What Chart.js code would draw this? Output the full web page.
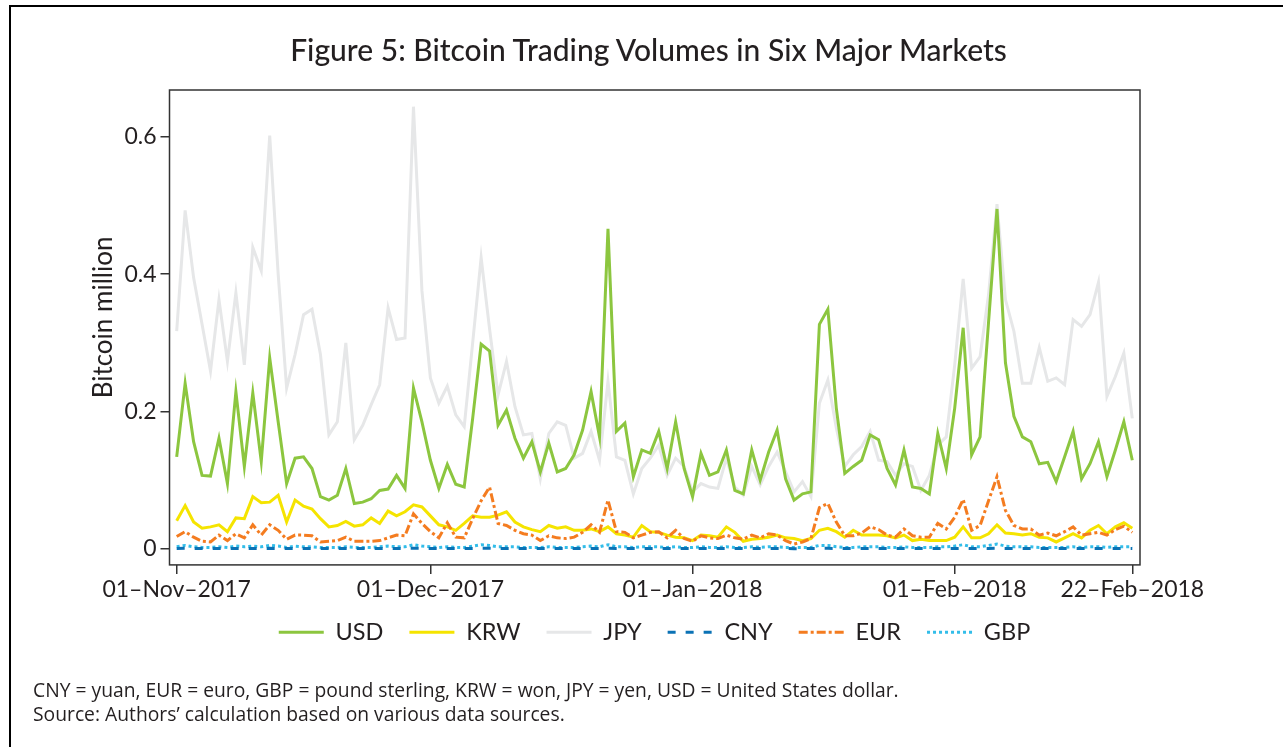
<!DOCTYPE html>
<html>
<head>
<meta charset="utf-8">
<script src="https://cdn.jsdelivr.net/npm/chart.js@4.4.1/dist/chart.umd.min.js"></script>
<style>
html,body{margin:0;padding:0;background:#fff;}
body{width:1283px;height:747px;position:relative;overflow:hidden;font-family:Lato,"Open Sans",sans-serif;color:#231f20;}
#frameTop{position:absolute;left:9px;top:5px;width:1274px;height:2px;background:#000;}
#frameLeft{position:absolute;left:9px;top:5px;width:2px;height:742px;background:#000;}
#title{position:absolute;left:0;width:1297px;top:32px;text-align:center;font-size:30px;line-height:34px;white-space:nowrap;font-weight:500;}
#wrap{position:absolute;left:0;top:0;width:1283px;height:747px;}
.note{position:absolute;left:33px;font-family:"Open Sans",Lato,sans-serif;font-size:19.3px;line-height:22px;white-space:nowrap;}
</style>
</head>
<body>
<div id="frameTop"></div>
<div id="frameLeft"></div>
<div id="wrap"><canvas id="c" width="1283" height="747"></canvas></div>
<div id="title">Figure 5: Bitcoin Trading Volumes in Six Major Markets</div>
<div class="note" style="top:679px;">CNY = yuan, EUR = euro, GBP = pound sterling, KRW = won, JPY = yen, USD = United States dollar.</div>
<div class="note" style="top:703px;">Source: Authors’ calculation based on various data sources.</div>
<script>
// ---- data (daily, 01-Nov-2017 .. 22-Feb-2018), Bitcoin million ----
const seriesNames = ['USD','KRW','JPY','CNY','EUR','GBP'];

const usd = [
0.134,0.241,0.156,0.107,0.106,0.161,0.095,0.229,0.120,0.227,
0.127,0.278,0.185,0.095,0.132,0.134,0.117,0.076,0.071,0.078,
0.117,0.066,0.068,0.073,0.085,0.087,0.107,0.088,0.234,0.185,
0.129,0.088,0.123,0.094,0.090,0.190,0.298,0.288,0.180,0.202,
0.161,0.132,0.156,0.112,0.154,0.112,0.117,0.137,0.173,0.229,
0.163,0.466,0.171,0.183,0.105,0.144,0.139,0.171,0.117,0.185,
0.117,0.076,0.139,0.107,0.112,0.144,0.085,0.080,0.144,0.100,
0.141,0.173,0.102,0.071,0.080,0.083,0.327,0.349,0.205,0.110,
0.120,0.129,0.166,0.159,0.117,0.093,0.144,0.090,0.088,0.080,
0.168,0.117,0.205,0.322,0.137,0.163,0.330,0.495,0.271,0.193,
0.163,0.156,0.124,0.126,0.098,0.134,0.171,0.102,0.124,0.156,
0.105,0.144,0.185,0.129];

const krw = [
0.041,0.063,0.039,0.030,0.032,0.035,0.025,0.045,0.044,0.076,
0.067,0.068,0.078,0.039,0.071,0.062,0.058,0.044,0.032,0.034,
0.040,0.033,0.035,0.045,0.037,0.055,0.048,0.054,0.064,0.061,
0.048,0.035,0.032,0.027,0.037,0.048,0.046,0.046,0.049,0.054,
0.039,0.032,0.028,0.025,0.034,0.030,0.032,0.027,0.027,0.029,
0.025,0.032,0.022,0.020,0.017,0.034,0.025,0.024,0.020,0.017,
0.016,0.012,0.020,0.019,0.017,0.032,0.024,0.011,0.014,0.015,
0.017,0.020,0.016,0.015,0.012,0.015,0.027,0.030,0.025,0.017,
0.027,0.020,0.020,0.020,0.019,0.016,0.020,0.012,0.014,0.012,
0.012,0.012,0.017,0.032,0.016,0.016,0.022,0.035,0.023,0.022,
0.020,0.022,0.017,0.016,0.010,0.016,0.022,0.016,0.027,0.034,
0.022,0.032,0.038,0.030];

const jpy = [
0.317,0.493,0.395,0.327,0.259,0.363,0.273,0.373,0.268,0.439,
0.405,0.602,0.400,0.234,0.283,0.341,0.349,0.283,0.166,0.185,
0.300,0.159,0.180,0.210,0.239,0.351,0.305,0.307,0.644,0.376,
0.249,0.212,0.237,0.195,0.178,0.300,0.424,0.320,0.224,0.273,
0.207,0.166,0.168,0.102,0.168,0.185,0.180,0.132,0.139,0.171,
0.129,0.244,0.134,0.129,0.080,0.117,0.132,0.151,0.107,0.132,
0.120,0.083,0.095,0.090,0.088,0.132,0.090,0.078,0.120,0.093,
0.120,0.141,0.112,0.083,0.098,0.076,0.212,0.246,0.176,0.120,
0.137,0.149,0.171,0.129,0.127,0.107,0.124,0.120,0.085,0.107,
0.151,0.163,0.268,0.393,0.263,0.280,0.370,0.502,0.363,0.317,
0.241,0.241,0.293,0.244,0.249,0.239,0.334,0.324,0.341,0.388,
0.222,0.251,0.285,0.190];

const cny = [
0.0005,0.0007,0.0005,0.0004,0.0004,0.0005,0.0004,0.0006,0.0005,0.0006,
0.0005,0.0007,0.0006,0.0004,0.0005,0.0005,0.0005,0.0004,0.0004,0.0004,
0.0005,0.0004,0.0004,0.0004,0.0004,0.0005,0.0005,0.0005,0.0008,0.0006,
0.0005,0.0004,0.0005,0.0004,0.0004,0.0005,0.0007,0.0007,0.0005,0.0005,
0.0005,0.0004,0.0004,0.0004,0.0005,0.0004,0.0004,0.0004,0.0005,0.0005,
0.0005,0.0008,0.0005,0.0005,0.0004,0.0004,0.0004,0.0005,0.0004,0.0005,
0.0004,0.0003,0.0004,0.0004,0.0004,0.0005,0.0004,0.0003,0.0004,0.0004,
0.0004,0.0005,0.0004,0.0003,0.0003,0.0004,0.0007,0.0007,0.0005,0.0004,
0.0004,0.0004,0.0005,0.0005,0.0004,0.0004,0.0005,0.0004,0.0004,0.0004,
0.0005,0.0004,0.0005,0.0007,0.0005,0.0005,0.0006,0.0008,0.0006,0.0005,
0.0005,0.0005,0.0004,0.0004,0.0004,0.0004,0.0005,0.0004,0.0005,0.0005,
0.0004,0.0005,0.0005,0.0005];

const eur = [
0.018,0.025,0.017,0.011,0.010,0.020,0.012,0.022,0.016,0.035,
0.020,0.035,0.027,0.014,0.020,0.020,0.019,0.010,0.011,0.012,
0.017,0.011,0.011,0.011,0.012,0.016,0.020,0.019,0.051,0.037,
0.025,0.016,0.038,0.017,0.016,0.044,0.070,0.090,0.037,0.034,
0.027,0.022,0.020,0.012,0.019,0.016,0.015,0.017,0.024,0.035,
0.024,0.071,0.025,0.024,0.016,0.020,0.024,0.025,0.016,0.027,
0.015,0.011,0.019,0.016,0.015,0.020,0.016,0.014,0.020,0.016,
0.022,0.020,0.012,0.007,0.010,0.015,0.060,0.066,0.039,0.019,
0.019,0.023,0.032,0.028,0.020,0.017,0.029,0.019,0.017,0.017,
0.037,0.029,0.046,0.072,0.027,0.034,0.070,0.105,0.056,0.034,
0.029,0.029,0.020,0.023,0.019,0.025,0.032,0.020,0.022,0.024,
0.020,0.028,0.033,0.024];

const gbp = [
0.003,0.005,0.003,0.002,0.002,0.003,0.002,0.004,0.003,0.004,
0.003,0.005,0.004,0.002,0.004,0.003,0.003,0.002,0.002,0.002,
0.003,0.002,0.002,0.002,0.003,0.004,0.003,0.003,0.006,0.004,
0.003,0.002,0.003,0.002,0.002,0.004,0.006,0.005,0.003,0.003,
0.003,0.002,0.002,0.002,0.003,0.002,0.002,0.002,0.003,0.004,
0.003,0.006,0.003,0.003,0.002,0.003,0.003,0.003,0.002,0.003,
0.002,0.002,0.003,0.002,0.002,0.003,0.002,0.002,0.003,0.002,
0.003,0.003,0.002,0.002,0.002,0.002,0.005,0.005,0.003,0.002,
0.002,0.003,0.003,0.003,0.002,0.002,0.003,0.002,0.002,0.002,
0.003,0.003,0.004,0.006,0.003,0.003,0.005,0.007,0.004,0.003,
0.003,0.003,0.002,0.002,0.002,0.002,0.003,0.002,0.003,0.003,
0.002,0.003,0.003,0.003];

// x tick positions (day index) and labels
const xTickDays = [0, 30, 61, 92, 113];
const xTickLabels = ['01–Nov–2017','01–Dec–2017','01–Jan–2018','01–Feb–2018','22–Feb–2018'];
const yTickValues = [0, 0.2, 0.4, 0.6];
const yTickLabels = ['0','0.2','0.4','0.6'];

// day categories
const days = [];
for (let i = 0; i < usd.length; i++) {
  const d = new Date(Date.UTC(2017, 10, 1 + i));
  days.push(d.toISOString().slice(0, 10));
}
const pts = arr => arr.map((v, i) => ({x: i, y: v}));

const TXT = '#231f20';
const FONT = 'Lato, "Open Sans", sans-serif';

const frame = {
  id: 'frame',
  afterDraw(chart) {
    const {ctx, chartArea: a} = chart;
    ctx.save();
    ctx.strokeStyle = '#333';
    ctx.lineWidth = 1.5;
    ctx.strokeRect(a.left, a.top, a.right - a.left, a.bottom - a.top);
    ctx.restore();
  }
};

new Chart(document.getElementById('c'), {
  type: 'line',
  data: {
    labels: days,
    datasets: [
      {label: 'USD', data: pts(usd), borderColor: '#8cc63f', backgroundColor: '#8cc63f', borderWidth: 3, order: 1},
      {label: 'KRW', data: pts(krw), borderColor: '#f5e400', backgroundColor: '#f5e400', borderWidth: 3, order: 3},
      {label: 'JPY', data: pts(jpy), borderColor: '#e6e7e8', backgroundColor: '#e6e7e8', borderWidth: 3, order: 6},
      {label: 'CNY', data: pts(cny), borderColor: '#0b72b5', backgroundColor: '#0b72b5', borderWidth: 3, borderDash: [8, 10], order: 4},
      {label: 'EUR', data: pts(eur), borderColor: '#f47c20', backgroundColor: '#f47c20', borderWidth: 3, borderDash: [9, 3, 3, 3], order: 2},
      {label: 'GBP', data: pts(gbp), borderColor: '#33bde9', backgroundColor: '#33bde9', borderWidth: 3, borderDash: [3, 3], order: 5}
    ]
  },
  options: {
    responsive: false,
    animation: false,
    devicePixelRatio: 1,
    elements: {
      point: {radius: 0, hoverRadius: 0, pointStyle: 'line'},
      line: {tension: 0, borderCapStyle: 'butt', borderJoinStyle: 'miter', fill: false}
    },
    layout: {padding: {left: 26, right: 0, top: 90, bottom: 93}},
    plugins: {
      tooltip: {enabled: false},
      title: {display: false},
      legend: {
        display: true,
        position: 'bottom',
        labels: {
          usePointStyle: true,
          pointStyle: 'line',
          pointStyleWidth: 45,
          padding: 26,
          color: TXT,
          font: {family: FONT, size: 23.5},
          generateLabels: chart => {
            const items = Chart.defaults.plugins.legend.labels.generateLabels(chart);
            items.forEach(it => {
              const ds = chart.data.datasets[it.datasetIndex];
              it.lineDash = ds.borderDash || [];
              it.strokeStyle = ds.borderColor;
              it.fillStyle = ds.borderColor;
              it.lineWidth = ds.borderWidth;
              it.pointStyle = 'line';
            });
            return items;
          },
          sort: (a, b) => a.datasetIndex - b.datasetIndex
        }
      }
    },
    scales: {
      x: {
        type: 'linear',
        min: -0.85,
        max: 113.91,
        afterBuildTicks: s => { s.ticks = xTickDays.map(v => ({value: v})); },
        afterFit: s => { s.height = 29.6; s._computeLabelArea = () => null; },
        ticks: {
          autoSkip: false, maxRotation: 0, minRotation: 0, padding: 2,
          color: TXT, font: {family: FONT, size: 23},
          callback: v => xTickLabels[xTickDays.indexOf(v)]
        },
        grid: {drawOnChartArea: false, drawTicks: true, tickLength: 9, color: '#333', lineWidth: 1.5},
        border: {display: false}
      },
      y: {
        type: 'linear',
        position: 'left',
        min: -0.0234,
        max: 0.6683,
        afterBuildTicks: s => { s.ticks = yTickValues.map(v => ({value: v})); },
        afterFit: s => { s.width = 143.5; },
        ticks: {
          padding: 4, color: TXT, font: {family: FONT, size: 23},
          callback: v => yTickLabels[yTickValues.indexOf(v)]
        },
        grid: {drawOnChartArea: false, drawTicks: true, tickLength: 9, color: '#333', lineWidth: 1.5},
        border: {display: false},
        title: {display: true, text: '   Bitcoin million', color: TXT, font: {family: FONT, size: 26}, padding: {top: 62, bottom: 0}}
      },
      yRight: {
        type: 'linear',
        position: 'right',
        display: true,
        afterFit: s => { s.width = 143; },
        ticks: {display: false},
        grid: {display: false},
        border: {display: false}
      }
    }
  },
  plugins: [frame]
});
</script>
</body>
</html>
